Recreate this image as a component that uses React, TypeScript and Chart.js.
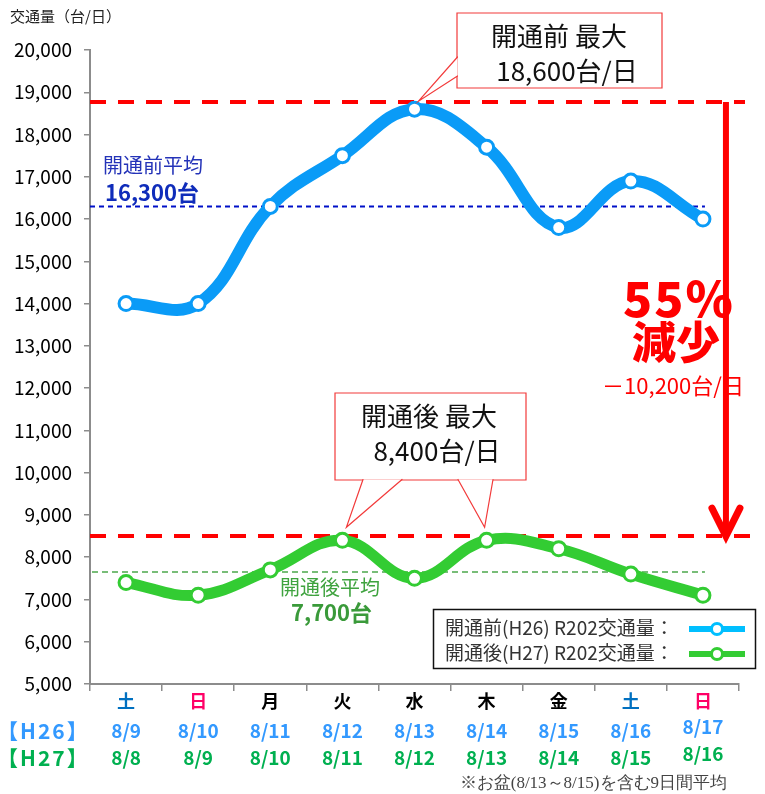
import React, { useEffect, useRef } from "react";
import { Chart, registerables } from "chart.js";
Chart.register(...registerables);

const days = ["土", "日", "月", "火", "水", "木", "金", "土", "日"];
const dayColors = ["#0070C0", "#FF0066", "#000000", "#000000", "#000000", "#000000", "#000000", "#0070C0", "#FF0066"];
const datesH26 = ["8/9", "8/10", "8/11", "8/12", "8/13", "8/14", "8/15", "8/16", "8/17"];
const datesH27 = ["8/8", "8/9", "8/10", "8/11", "8/12", "8/13", "8/14", "8/15", "8/16"];
const before = [14000, 14000, 16300, 17500, 18600, 17700, 15800, 16900, 16000];
const after = [7400, 7100, 7700, 8400, 7500, 8400, 8200, 7600, 7100];
const avgBefore = 16300;
const avgAfter = 7650;
const maxLineTop = 18770;
const maxLineBottom = 8500;

const BLUE = "#0A9BF7";
const GREEN = "#33CC33";
const RED = "#FF0000";
const JP = '"Noto Sans CJK JP", "Noto Sans", sans-serif';

const annot = {
  id: "annot",
  beforeDatasetsDraw(chart: any) {
    const { ctx, scales } = chart;
    const x = scales.x, y = scales.y;
    const L = chart.chartArea.left;
    ctx.save();
    ctx.setLineDash([5, 4]);
    ctx.lineWidth = 2;
    ctx.strokeStyle = "#0010C8";
    ctx.beginPath();
    ctx.moveTo(L, y.getPixelForValue(avgBefore));
    ctx.lineTo(x.getPixelForValue(8) + 2, y.getPixelForValue(avgBefore));
    ctx.stroke();
    ctx.setLineDash([6, 4]);
    ctx.lineWidth = 1.5;
    ctx.strokeStyle = "#4CA84C";
    ctx.beginPath();
    ctx.moveTo(L + 2, y.getPixelForValue(avgAfter));
    ctx.lineTo(x.getPixelForValue(8) + 2, y.getPixelForValue(avgAfter));
    ctx.stroke();
    ctx.setLineDash([16, 12]);
    ctx.lineWidth = 4;
    ctx.strokeStyle = RED;
    ctx.beginPath();
    ctx.moveTo(L, y.getPixelForValue(maxLineTop));
    ctx.lineTo(chart.chartArea.right + 6, y.getPixelForValue(maxLineTop));
    ctx.moveTo(L, y.getPixelForValue(maxLineBottom));
    ctx.lineTo(chart.chartArea.right + 12, y.getPixelForValue(maxLineBottom));
    ctx.stroke();
    ctx.restore();
  },
  afterDatasetsDraw(chart: any) {
    const { ctx, scales } = chart;
    const x = scales.x, y = scales.y;
    ctx.save();
    const ax = x.getPixelForValue(8) + 23;
    const y1 = y.getPixelForValue(maxLineTop);
    const y2 = y.getPixelForValue(maxLineBottom);
    ctx.strokeStyle = RED;
    ctx.lineWidth = 6;
    ctx.lineCap = "butt";
    ctx.beginPath();
    ctx.moveTo(ax, y1);
    ctx.lineTo(ax, y2 - 4);
    ctx.stroke();
    ctx.lineWidth = 7;
    ctx.lineCap = "round";
    ctx.lineJoin = "miter";
    ctx.beginPath();
    ctx.moveTo(ax - 14, y2 - 28);
    ctx.lineTo(ax, y2);
    ctx.lineTo(ax + 14, y2 - 28);
    ctx.stroke();

    ctx.textBaseline = "middle";
    ctx.textAlign = "left";
    ctx.fillStyle = "#2433B8";
    ctx.font = `20px ${JP}`;
    ctx.fillText("開通前平均", 103, 165);
    ctx.fillStyle = "#0F2CBA";
    ctx.font = `bold 22px ${JP}`;
    ctx.fillText("16,300台", 105, 193);
    ctx.fillStyle = "#3FA33F";
    ctx.font = `20px ${JP}`;
    ctx.fillText("開通後平均", 280, 587);
    ctx.font = `bold 22px ${JP}`;
    ctx.fillStyle = "#3A9A3A";
    ctx.fillText("7,700台", 291, 613);

    ctx.fillStyle = RED;
    ctx.textAlign = "center";
    ctx.font = `900 48px ${JP}`;
    (ctx as any).letterSpacing = "2px";
    ctx.fillText("55%", 679, 299);
    (ctx as any).letterSpacing = "0px";
    ctx.font = `900 44px ${JP}`;
    ctx.fillText("減少", 676, 342);
    ctx.font = `22px ${JP}`;
    ctx.fillText("－10,200台/日", 673, 386);

    const callout = (bx: number, by: number, bw: number, bh: number, ptrs: number[][][], l1: string, l2: string, c1: number, c2: number) => {
      ctx.beginPath();
      ctx.rect(bx, by, bw, bh);
      ctx.fillStyle = "#FFFFFF";
      ctx.fill();
      ctx.strokeStyle = "#F23A3A";
      ctx.lineWidth = 1.2;
      ctx.stroke();
      for (const p of ptrs) {
        ctx.beginPath();
        ctx.moveTo(p[0][0], p[0][1]);
        ctx.lineTo(p[1][0], p[1][1]);
        ctx.lineTo(p[2][0], p[2][1]);
        ctx.closePath();
        ctx.fillStyle = "#FFFFFF";
        ctx.fill();
        ctx.beginPath();
        ctx.moveTo(p[0][0], p[0][1]);
        ctx.lineTo(p[1][0], p[1][1]);
        ctx.lineTo(p[2][0], p[2][1]);
        ctx.strokeStyle = "#F23A3A";
        ctx.stroke();
      }
      ctx.fillStyle = "#111111";
      ctx.textAlign = "center";
      ctx.font = `26px ${JP}`;
      ctx.fillText(l1, c1, by + 23);
      ctx.fillText(l2, c2, by + 58);
    };
    const m1 = chart.getDatasetMeta(0).data[4];
    callout(457, 13, 205, 75,
      [[[457.5, 57], [m1.x + 4, m1.y - 8], [457.5, 76]]],
      "開通前 最大", "18,600台/日", 559, 567);
    const m2 = chart.getDatasetMeta(1).data[3];
    const m3 = chart.getDatasetMeta(1).data[5];
    callout(335, 393, 191, 87,
      [[[363, 479.5], [m2.x + 4, m2.y - 13], [402, 479.5]],
       [[458, 479.5], [m3.x - 2, m3.y - 13], [493, 479.5]]],
      "開通後 最大", "8,400台/日", 429, 437);

    ctx.beginPath();
    ctx.rect(433.5, 609.5, 322, 59);
    ctx.fillStyle = "#FFFFFF";
    ctx.fill();
    ctx.strokeStyle = "#111111";
    ctx.lineWidth = 1.5;
    ctx.stroke();
    const rows: [string, string, number][] = [
      ["開通前(H26) R202交通量：", "#00BFFF", 628],
      ["開通後(H27) R202交通量：", GREEN, 653],
    ];
    for (const [t, c, ry] of rows) {
      ctx.fillStyle = "#333333";
      ctx.textAlign = "left";
      ctx.font = `19px ${JP}`;
      ctx.fillText(t, 445, ry);
      ctx.strokeStyle = c;
      ctx.lineWidth = 6;
      ctx.lineCap = "butt";
      ctx.beginPath();
      ctx.moveTo(689, ry + 1);
      ctx.lineTo(745, ry + 1);
      ctx.stroke();
      ctx.beginPath();
      ctx.arc(717, ry + 1, 5.5, 0, Math.PI * 2);
      ctx.fillStyle = "#FFFFFF";
      ctx.fill();
      ctx.lineWidth = 3;
      ctx.stroke();
    }
    ctx.restore();
  },
  afterDraw(chart: any) {
    const { ctx, scales } = chart;
    const x = scales.x;
    ctx.save();
    ctx.textBaseline = "middle";
    ctx.textAlign = "left";
    ctx.fillStyle = "#222222";
    ctx.font = `15px ${JP}`;
    ctx.fillText("交通量（台/日）", 10, 16);
    ctx.textAlign = "center";
    for (let i = 0; i < days.length; i++) {
      const px = x.getPixelForValue(i);
      ctx.font = `bold 18px ${JP}`;
      ctx.fillStyle = dayColors[i];
      ctx.fillText(days[i], px, 701);
      ctx.font = `bold 19px ${JP}`;
      ctx.fillStyle = "#3399FF";
      ctx.fillText(datesH26[i], px, i === 8 ? 727 : 731);
      ctx.fillStyle = "#00B050";
      ctx.fillText(datesH27[i], px, i === 8 ? 754 : 758);
    }
    ctx.textAlign = "left";
    ctx.font = `bold 21px ${JP}`;
    (ctx as any).letterSpacing = "2px";
    ctx.fillStyle = "#3399FF";
    ctx.fillText("【H26】", -3, 731);
    ctx.fillStyle = "#00B050";
    ctx.fillText("【H27】", -3, 758);
    (ctx as any).letterSpacing = "0px";
    ctx.font = `17px serif`;
    ctx.fillStyle = "#444444";
    ctx.textAlign = "right";
    ctx.fillText("※お盆(8/13～8/15)を含む9日間平均", 727, 784);
    ctx.restore();
  },
};

export default function App() {
  const ref = useRef<HTMLCanvasElement>(null);
  useEffect(() => {
    if (!ref.current) return;
    const chart = new Chart(ref.current, {
      type: "line",
      data: {
        labels: days,
        datasets: [
          {
            label: "開通前(H26) R202交通量",
            data: before,
            borderColor: BLUE,
            borderWidth: 12,
            tension: 0.4,
            pointRadius: 7,
            pointBorderWidth: 3,
            pointBackgroundColor: "#FFFFFF",
            pointBorderColor: BLUE,
          },
          {
            label: "開通後(H27) R202交通量",
            data: after,
            borderColor: GREEN,
            borderWidth: 11,
            tension: 0.4,
            pointRadius: 7,
            pointBorderWidth: 3,
            pointBackgroundColor: "#FFFFFF",
            pointBorderColor: GREEN,
          },
        ],
      },
      options: {
        animation: false,
        responsive: false,
        maintainAspectRatio: false,
        layout: { padding: { top: 50, right: 26, left: 0, bottom: 0 } },
        plugins: { legend: { display: false }, tooltip: { enabled: false } },
        scales: {
          x: {
            offset: true,
            grid: { display: true, drawOnChartArea: false, drawTicks: true, tickLength: 7, color: "#8C8C8C", offset: true, lineWidth: 1.5 },
            border: { color: "#8C8C8C", width: 2 },
            ticks: { display: false },
            afterFit: (s: any) => { s.height = 110; },
          },
          y: {
            min: 5000,
            max: 20000,
            grid: { display: true, drawOnChartArea: false, drawTicks: true, tickLength: 6, color: "#8C8C8C", lineWidth: 1.5 },
            border: { color: "#8C8C8C", width: 2 },
            ticks: {
              stepSize: 1000,
              padding: 12,
              color: "#000000",
              font: { family: JP, size: 19 },
              callback: (v: any) => Number(v).toLocaleString("en-US"),
            },
            afterFit: (s: any) => { s.width = 90; },
          },
        },
      },
      plugins: [annot],
    });
    return () => chart.destroy();
  }, []);
  return (
    <div style={{ position: "absolute", left: 0, top: 0, width: 765, height: 794 }}>
      <canvas ref={ref} width={765} height={794} style={{ width: 765, height: 794 }} />
    </div>
  );
}
